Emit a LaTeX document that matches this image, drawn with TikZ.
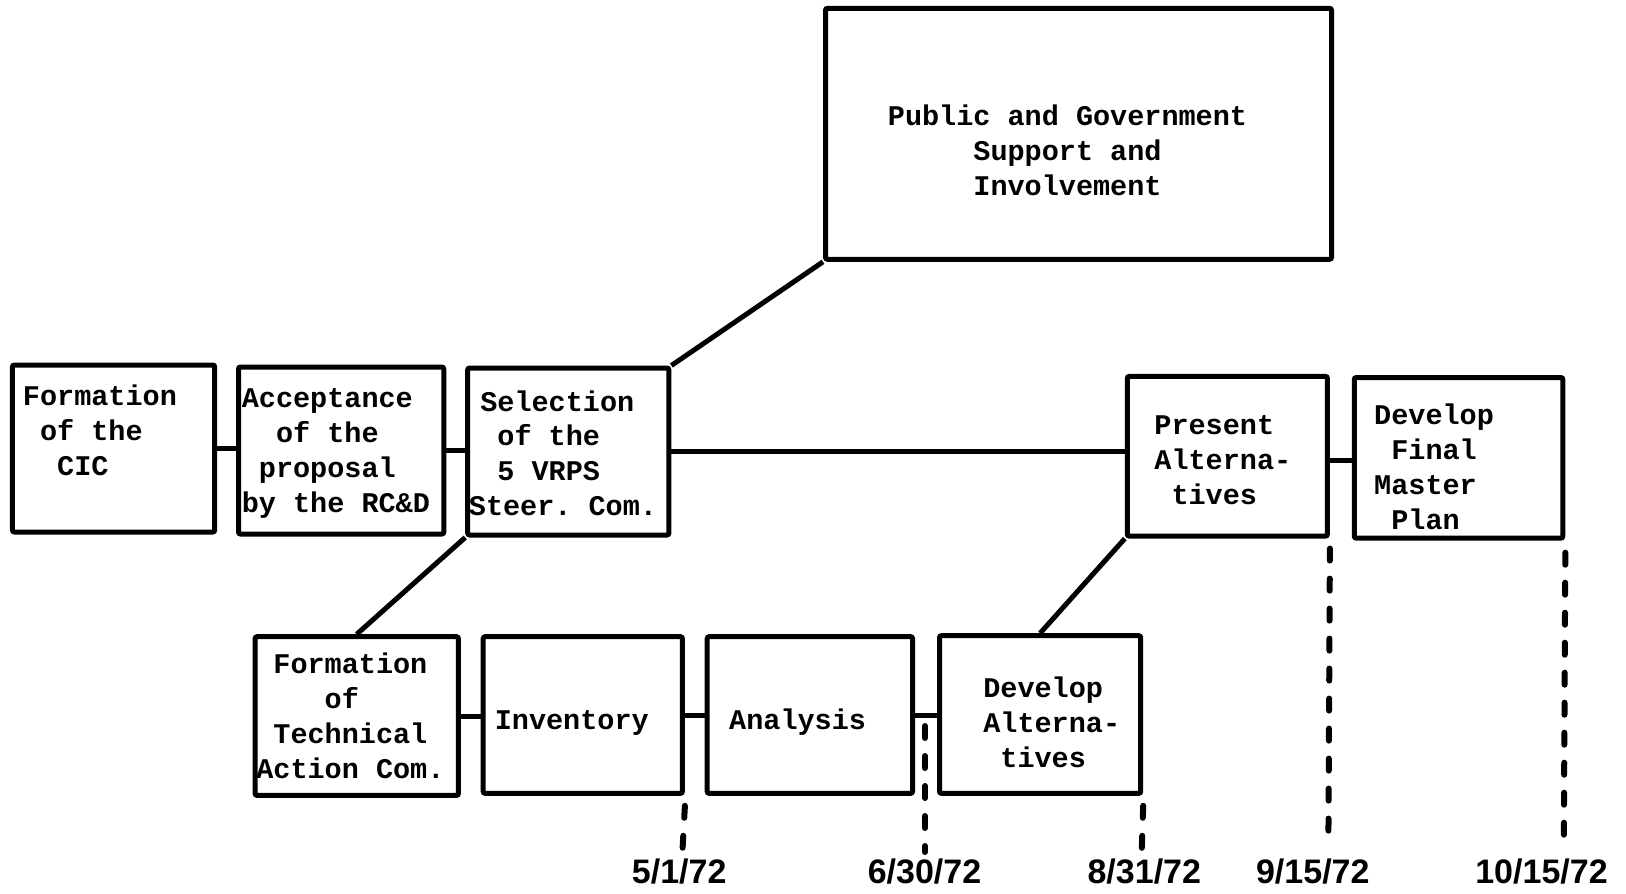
\documentclass[tikz,border=0pt]{standalone}
\usepackage{fontspec}
\setmainfont{Liberation Sans}
\newfontfamily\boxfont{Liberation Mono}
\newcommand\ind{\hspace*{0.6em}}
\begin{document}
\begin{tikzpicture}[x=1pt,y=-1pt,
  box/.style={draw,line width=5pt,rounded corners=2pt,inner sep=0pt},
  conn/.style={line width=5pt},
  dashv/.style={line width=6pt,line cap=round,dash pattern=on 12pt off 18pt},
  txt/.style={font={\boxfont\bfseries\fontsize{28.5}{34.9}\selectfont\frenchspacing},align=left,anchor=north west,inner sep=0pt},
  datelbl/.style={font={\bfseries\fontsize{34}{40}\selectfont},inner sep=0pt}]
\useasboundingbox (0,0) rectangle (1626,894);
% boxes
\node[box,minimum width=202.3pt,minimum height=167pt] (b1) at (113.55,448.5) {};
\node[box,minimum width=205.3pt,minimum height=167pt] (b2) at (341.15,450.5) {};
\node[box,minimum width=201.2pt,minimum height=167pt] (b3) at (568.3,451.5) {};
\node[box,minimum width=506pt,minimum height=251pt] (pub) at (1078.5,133.8) {};
\node[box,minimum width=200.1pt,minimum height=159.7pt] (pres) at (1227.35,456.25) {};
\node[box,minimum width=208.5pt,minimum height=160.7pt] (fin) at (1458.55,457.85) {};
\node[box,minimum width=203.3pt,minimum height=158.7pt] (tech) at (356.75,716.05) {};
\node[box,minimum width=199.2pt,minimum height=156.6pt] (inv) at (582.8,715) {};
\node[box,minimum width=205.4pt,minimum height=156.6pt] (ana) at (809.9,715) {};
\node[box,minimum width=201.2pt,minimum height=157.6pt] (dev) at (1040.1,714.5) {};
% texts
\node[txt] (t1) at (22.8,381.2) {\strut Formation\\\ind of the\\\ind\ind CIC};
\node[txt] (t2) at (241.6,383.2) {\strut Acceptance\\\ind\ind of the\\\ind proposal\\by the RC\&D};
\node[txt] (t3) at (468.7,386.4) {\strut\hspace*{11.4pt}Selection\\\hspace*{28.5pt}of the\\\hspace*{28.5pt}5 VRPS\\Steer. Com.};
\node[txt] (tpub) at (887.7,101.2) {\strut Public and Government\\\ind\ind\ind\ind\ind Support and\\\ind\ind\ind\ind\ind Involvement};
\node[txt] (tpres) at (1154.2,410.2) {\strut Present\\Alterna-\\\ind tives};
\node[txt] (tfin) at (1374.0,399.8) {\strut Develop\\\ind Final\\Master\\\ind Plan};
\node[txt] (ttech) at (256.1,648.7) {\strut\ind Formation\\\ind\ind\ind\ind of\\\ind Technical\\Action Com.};
\node[txt] (tinv) at (494.6,704.7) {\strut Inventory};
\node[txt] (tana) at (729.0,704.7) {\strut Analysis};
\node[txt] (tdev) at (983.1,672.6) {\strut Develop\\Alterna-\\\ind tives};
% connectors
\draw[conn] (b1.east) -- (b1.east -| b2.west);
\draw[conn] (b2.east) -- (b2.east -| b3.west);
\draw[conn] (b3.east) -- (b3.east -| pres.west);
\draw[conn] ([yshift=-4pt]pres.east) -- ([yshift=-4pt]pres.east -| fin.west);
\draw[conn] (b3.north east) -- (pub.south west);
\draw[conn] (b3.south west) -- (tech.north);
\draw[conn] (pres.south west) -- (dev.north);
\draw[conn] (tech.east) -- (tech.east -| inv.west);
\draw[conn] (inv.east) -- (inv.east -| ana.west);
\draw[conn] (ana.east) -- (ana.east -| dev.west);
% dashed time markers
\coordinate (m2) at (925,726);
\coordinate (d1) at (682.4,852);
\coordinate (d2) at (925,852);
\coordinate (d3) at (1141.7,852);
\coordinate (d4) at (1328.4,842);
\coordinate (d5) at (1563.8,850);
\draw[dashv] ([yshift=-10pt]inv.south east) -- (d1);
\draw[dashv] (m2) -- (d2);
\draw[dashv] ([yshift=-10pt]dev.south east) -- (d3);
\draw[dashv] ([yshift=-10pt]pres.south east) -- (d4);
\draw[dashv] ([yshift=-12pt]fin.south east) -- (d5);
% dates
\node[datelbl] (l1) at (679.2,871.1) {5/1/72};
\node[datelbl] (l2) at (924.5,871.1) {6/30/72};
\node[datelbl] (l3) at (1144.3,871.1) {8/31/72};
\node[datelbl] (l4) at (1312.8,871.1) {9/15/72};
\node[datelbl] (l5) at (1541.5,871.1) {10/15/72};
\end{tikzpicture}
\end{document}
